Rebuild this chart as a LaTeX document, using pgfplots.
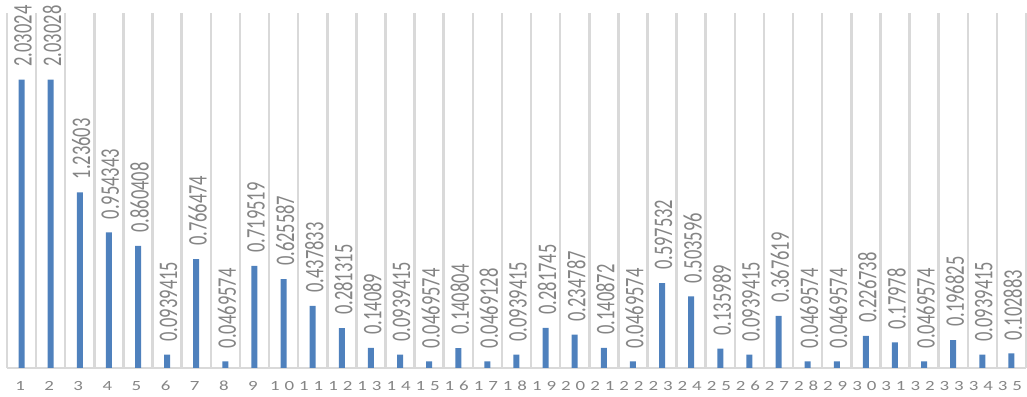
\documentclass[border=0pt]{standalone}
\usepackage{pgfplots}
\usepackage{pgfplotstable}
\usepackage{fontspec}
\pgfplotsset{compat=1.18}
\setmainfont{Carlito}
\definecolor{barblue}{HTML}{4F81BD}
\definecolor{gridgray}{HTML}{D9D9D9}
\definecolor{labelgray}{HTML}{858585}

% one digit of a category label, widened
\newcommand{\dg}[1]{\makebox[14.5pt]{\scalebox{1.35}[1]{#1}}}
\newcommand{\one}[1]{\scalebox{1.35}[1]{#1}}
\newcommand{\two}[2]{\dg{#1}\dg{#2}}

\pgfplotstableread{
x y
1 2.03024
2 2.03028
3 1.23603
4 0.954343
5 0.860408
6 0.0939415
7 0.766474
8 0.0469574
9 0.719519
10 0.625587
11 0.437833
12 0.281315
13 0.14089
14 0.0939415
15 0.0469574
16 0.140804
17 0.0469128
18 0.0939415
19 0.281745
20 0.234787
21 0.140872
22 0.0469574
23 0.597532
24 0.503596
25 0.135989
26 0.0939415
27 0.367619
28 0.0469574
29 0.0469574
30 0.226738
31 0.17978
32 0.0469574
33 0.196825
34 0.0939415
35 0.102883
}\datatable

\begin{document}
\begin{tikzpicture}
\useasboundingbox (0,0) rectangle (1027pt,396pt);
\begin{axis}[
  at={(7pt,28pt)}, anchor=south west,
  scale only axis,
  width=1019pt, height=355pt,
  xmin=0.5, xmax=35.5,
  ymin=0, ymax=2.5,
  clip=false,
  axis x line=bottom,
  axis y line=none,
  x axis line style={-, gridgray, line width=2pt},
  xtick={1,...,35},
  xticklabels={\one1,\one2,\one3,\one4,\one5,\one6,\one7,\one8,\one9,
    \two10,\two11,\two12,\two13,\two14,\two15,\two16,\two17,\two18,\two19,
    \two20,\two21,\two22,\two23,\two24,\two25,\two26,\two27,\two28,\two29,
    \two30,\two31,\two32,\two33,\two34,\two35},
  minor xtick={0.5,1.5,...,35.5},
  minor x grid style={gridgray, line width=2.5pt},
  xminorgrids=true,
  major tick length=0pt, minor tick length=0pt,
  xticklabel style={font=\fontsize{14}{14}\selectfont, text=labelgray,
    anchor=north, inner sep=0pt, yshift=-13pt, xshift=-1.5pt},
  ybar, bar width=6pt, bar shift=0pt,
  point meta=explicit symbolic,
  nodes near coords={\rotatebox{90}{\scalebox{1}[1.45]{\pgfplotspointmeta}}},
  every node near coord/.append style={anchor=south, inner sep=0pt, yshift=13pt, xshift=1.5pt,
    font=\fontsize{18.5}{18.5}\selectfont, text=labelgray},
]
\addplot[fill=barblue, draw=none] table[x=x, y=y, meta=y] {\datatable};
\end{axis}
\end{tikzpicture}
\end{document}
